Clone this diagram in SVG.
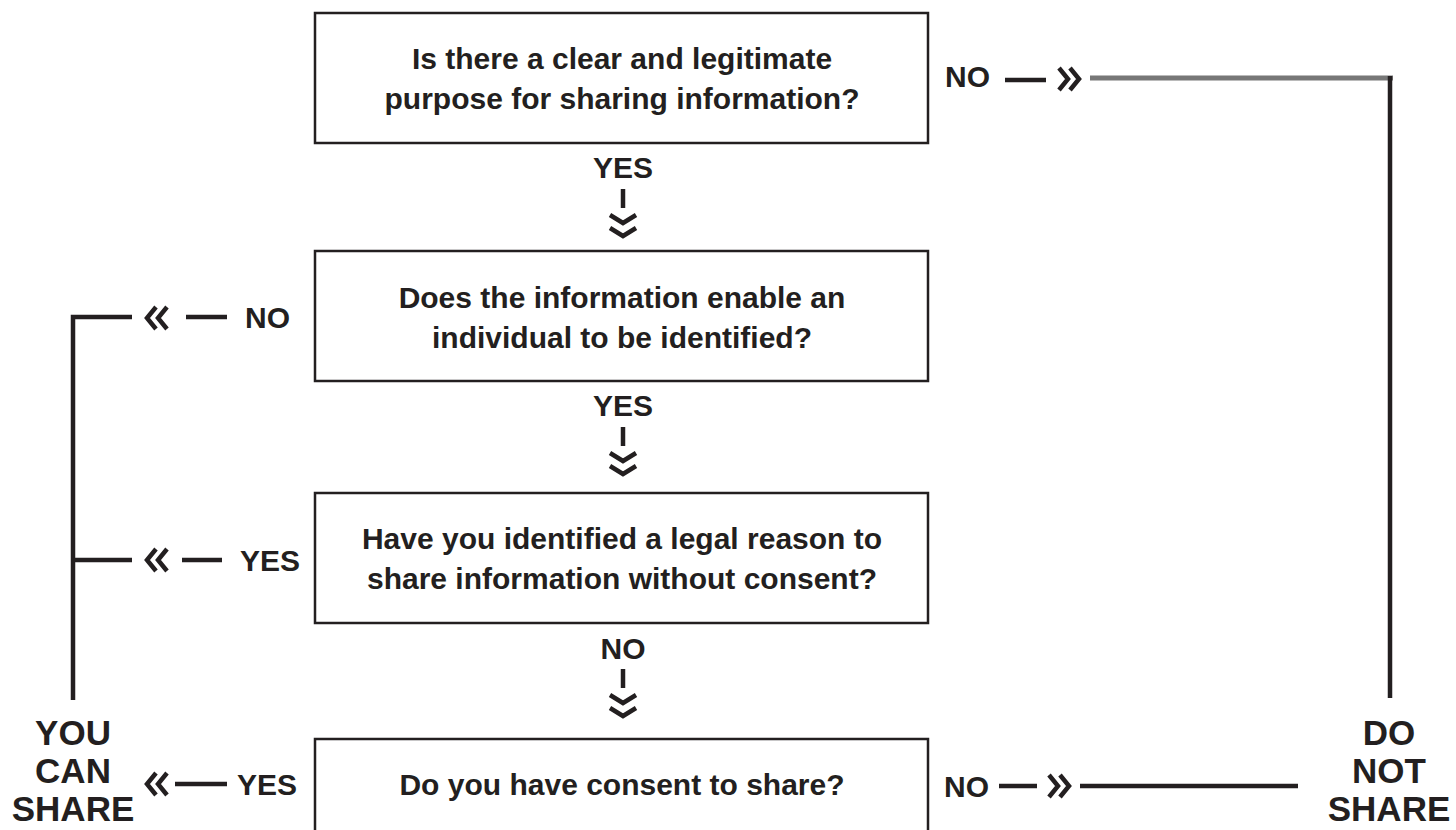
<svg xmlns="http://www.w3.org/2000/svg" width="1456" height="830" viewBox="0 0 1456 830">
<style>
text{font-family:"Liberation Sans",Arial,sans-serif;font-weight:bold;fill:#231f20}
.q{font-size:30px;text-anchor:middle}
.lbl{font-size:30px}
.end{font-size:35px;text-anchor:middle}
.box{fill:#fff;stroke:#231f20;stroke-width:2.5}
.ln{stroke:#231f20;stroke-width:4.5;fill:none}
.gray{stroke:#777;stroke-width:5;fill:none}
.chev{stroke:#231f20;stroke-width:4.5;fill:none;stroke-linejoin:miter}
</style>
<defs>
<path id="chevL" class="chev" d="M4,-11 L-5,0 L4,11 M15,-11 L6,0 L15,11"/>
<path id="chevR" class="chev" d="M-15,-11 L-6,0 L-15,11 M-4,-11 L5,0 L-4,11"/>
<path id="chevD" class="chev" d="M-13,-11 L0,-3 L13,-11 M-13,2 L0,10 L13,2"/>
</defs>
<rect width="1456" height="830" fill="#fff"/>
<g id="connectors">
  <line class="ln" x1="623" y1="189" x2="623" y2="208"/>
  <use href="#chevD" x="623" y="226"/>
  <line class="ln" x1="623" y1="427" x2="623" y2="446"/>
  <use href="#chevD" x="623" y="464"/>
  <line class="ln" x1="623" y1="669" x2="623" y2="688"/>
  <use href="#chevD" x="623" y="706"/>
  <polyline class="ln" points="132,317 73,317 73,700"/>
  <use href="#chevL" x="152" y="318"/>
  <line class="ln" x1="186" y1="317" x2="227" y2="317"/>
  <line class="ln" x1="73" y1="560" x2="132" y2="560"/>
  <use href="#chevL" x="152" y="560"/>
  <line class="ln" x1="182" y1="560" x2="222" y2="560"/>
  <use href="#chevL" x="152" y="784"/>
  <line class="ln" x1="175" y1="784" x2="227" y2="784"/>
  <line class="ln" x1="1005" y1="80" x2="1046" y2="80"/>
  <use href="#chevR" x="1074" y="79"/>
  <line class="gray" x1="1090" y1="78" x2="1393" y2="78"/>
  <line class="ln" x1="1390" y1="76" x2="1390" y2="698"/>
  <line class="ln" x1="999" y1="786" x2="1037" y2="786"/>
  <use href="#chevR" x="1064" y="786"/>
  <line class="ln" x1="1080" y1="786" x2="1298" y2="786"/>
  <text class="q" x="623" y="178">YES</text>
  <text class="q" x="623" y="416">YES</text>
  <text class="q" x="623" y="659">NO</text>
  <text class="lbl" x="245" y="328">NO</text>
  <text class="lbl" x="240" y="571">YES</text>
  <text class="lbl" x="237" y="795">YES</text>
  <text class="lbl" x="945" y="87">NO</text>
  <text class="lbl" x="944" y="797">NO</text>
</g>
<g id="q1">
  <rect class="box" x="315" y="13" width="613" height="130"/>
  <text class="q" x="622" y="69">Is there a clear and legitimate</text>
  <text class="q" x="622" y="109">purpose for sharing information?</text>
</g>
<g id="q2">
  <rect class="box" x="315" y="251" width="613" height="130"/>
  <text class="q" x="622" y="308">Does the information enable an</text>
  <text class="q" x="622" y="348">individual to be identified?</text>
</g>
<g id="q3">
  <rect class="box" x="315" y="493" width="613" height="130"/>
  <text class="q" x="622" y="549">Have you identified a legal reason to</text>
  <text class="q" x="622" y="589">share information without consent?</text>
</g>
<g id="q4">
  <rect class="box" x="315" y="739" width="613" height="110"/>
  <text class="q" x="622" y="795">Do you have consent to share?</text>
</g>
<g id="you-can-share">
  <text class="end" x="73" y="745">YOU</text>
  <text class="end" x="73" y="783">CAN</text>
  <text class="end" x="73" y="821">SHARE</text>
</g>
<g id="do-not-share">
  <text class="end" x="1389" y="745">DO</text>
  <text class="end" x="1389" y="783">NOT</text>
  <text class="end" x="1389" y="821">SHARE</text>
</g>
</svg>
